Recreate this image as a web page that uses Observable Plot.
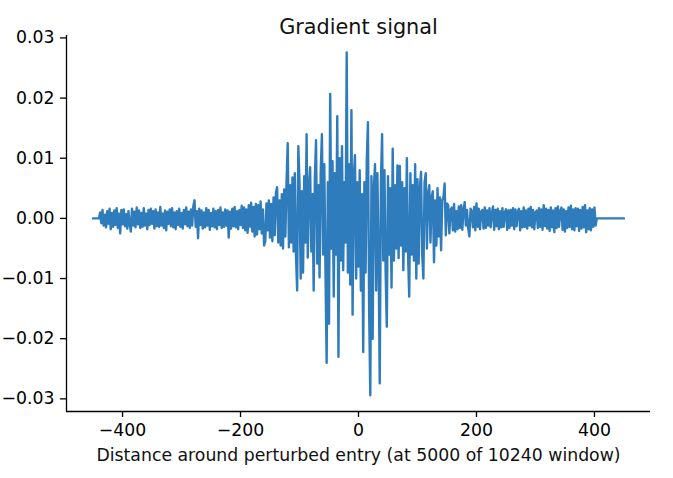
<!DOCTYPE html>
<html><head><meta charset="utf-8">
<script src="https://cdn.jsdelivr.net/npm/d3@7"></script>
<script src="https://cdn.jsdelivr.net/npm/@observablehq/plot@0.6"></script>
<style>html,body{margin:0;padding:0;background:#fff;overflow:hidden;}</style>
</head><body><div id="chart"></div>
<script>
const title = "Gradient signal";
const xLabel = "Distance around perturbed entry (at 5000 of 10240 window)";
const xTicks = [-400, -200, 0, 200, 400];
const yTicks = [-0.03, -0.02, -0.01, 0, 0.01, 0.02, 0.03];
const offsetStart = -450, offsetStep = 2;

// gradient values in units of 1e-4, segment by segment
const gradFlatLeft = [0, 0, 0, 0, 0, 0];
const gradNoiseLeft = [
  10,-8,14,-12,6,-15,12,-9,16,-18,
  9,-14,13,-11,17,-16,8,-25,14,-10,
  15,-13,7,-17,12,-9,-22,16,-12,11,
  -15,18,-10,13,-16,9,-14,17,-12,8,
  -18,14,-11,16,-9,12,-17,15,-13,10,
  -14,19,-12,8,-16,13,-20,11,-9,15,
  -13,17,-15,10,-18,12,-11,16,-14,9,
  -17,14,-10,18,-13,11,-16,15,-12,20,
  30,-14,12,-33,16,-11,13,-17,10,-15,
  17,-12,14,-19,9,-13,16,-15,12,-18,
  14,-11,18,-16,10,-14,15,-12,13,-32,
  11,-17,16,-13,19,-15,12,-18,14,-11,
  21,-16,18,-20,15,-24,22,-14,26,-22,
  19,-30,24,-27
];
const gradRise = [
  22,-18,28,-25,15,-45,-38,25,-20,30,
  -32,24,-38,35,-28,42,52,-40,30,-45,
  40,-50,48,-30,60,125,-48,55,-40,68,
  -55,75,-60,-120,120
];
const gradCore = [
  60,-100,45,-90,70,-40,140,-65,50,85,
  -55,40,-120,65,130,-75,55,-98,80,140,
  -60,90,-85,-240,60,-175,207,-50,95,-130,
  75,-60,170,-230,100,-70,120,-86,60,-40,
  276,-90,90,-110,180,-160,70,105,-100,60,
  -80,80,-120,40,-222,60,-90,95,160,-150,
  -294,70,-200,50,90,-120,75,-60,-274,60,
  140,-70,80,-90,-180,70,-60,50,-115,116,
  -70,55,-50,88,-66,87,-45,60,-86,50,
  -55,100,-60,-130,75,-60,55,-70,90,-100,
  65
];
const gradDecay = [-75,50,77,-60,-100,60,75,-50,40,55,-40,35,45,-73,30,-45,50,-30,35,-53,30,35,58,-28,25];
const gradNoiseRight = [
  22,-25,14,18,-20,24,-22,12,-18,20,
  -16,22,-19,15,27,-12,14,-17,-30,16,
  12,-15,19,-20,25,-14,16,-18,11,14,
  -17,18,-16,13,-12,17,-15,9,20,-19,
  14,-13,16,-18,12,-15,17,-14,10,15,
  -19,13,-16,14,-12,17,-18,15,-13,11,
  16,-20,12,-15,18,-14,13,-17,16,-12,
  19,-15,14,-18,10,13,-16,17,-14,15,
  -19,22,-13,16,-17,14,-21,18,-15,13,
  -23,17,-16,20,-14,12,18,-19,15,-22,
  12,-16,18,-14,21,-18,15,-20,17,-13,
  16,-21,14,-17,19,-15,22,-23,13,-18,
  17,-20,15,-14,18,-12
];
const gradFlatRight = [0,0,0,0,0,0,0,0,0,0,0,0,0,0,0,0,0,0,0,0,0,0,0,0];

const gradE4 = [...gradFlatLeft, ...gradNoiseLeft, ...gradRise, ...gradCore, ...gradDecay, ...gradNoiseRight, ...gradFlatRight];
const data = gradE4.map((v, i) => ({offset: offsetStart + i * offsetStep, gradient: v * 1e-4}));

const xDomain = [-495, 495];
const yDomain = [-0.0321, 0.0304];

const chart = Plot.plot({
  width: 673, height: 478,
  marginLeft: 66, marginRight: 23, marginTop: 35, marginBottom: 67,
  style: {fontFamily: "DejaVu Sans", fontSize: "17.3px", background: "#fff", color: "#000"},
  x: {domain: xDomain},
  y: {domain: yDomain},
  marks: [
    Plot.axisX({ticks: xTicks, tickSize: 6, tickPadding: 6, label: null, tickFormat: d3.format("d"), fontSize: 17.3, strokeWidth: 1.3}),
    Plot.axisY({ticks: yTicks, tickSize: 6, tickPadding: 6, label: null, tickFormat: d3.format(".2f"), fontSize: 17.3, strokeWidth: 1.3}),
    Plot.ruleX([xDomain[0]], {stroke: "#000", strokeWidth: 1.3}),
    Plot.ruleY([yDomain[0]], {stroke: "#000", strokeWidth: 1.3}),
    Plot.line(data, {x: "offset", y: "gradient", stroke: "#2f7cbc", strokeWidth: 2.4}),
    Plot.text([title], {text: d => d, frameAnchor: "top", dy: -16.7, fontSize: 20.8, fill: "#111"}),
    Plot.text([xLabel], {text: d => d, frameAnchor: "bottom", dy: 49.5, fontSize: 17.3, fill: "#111"})
  ]
});
document.getElementById("chart").appendChild(chart);
</script>
</body></html>
